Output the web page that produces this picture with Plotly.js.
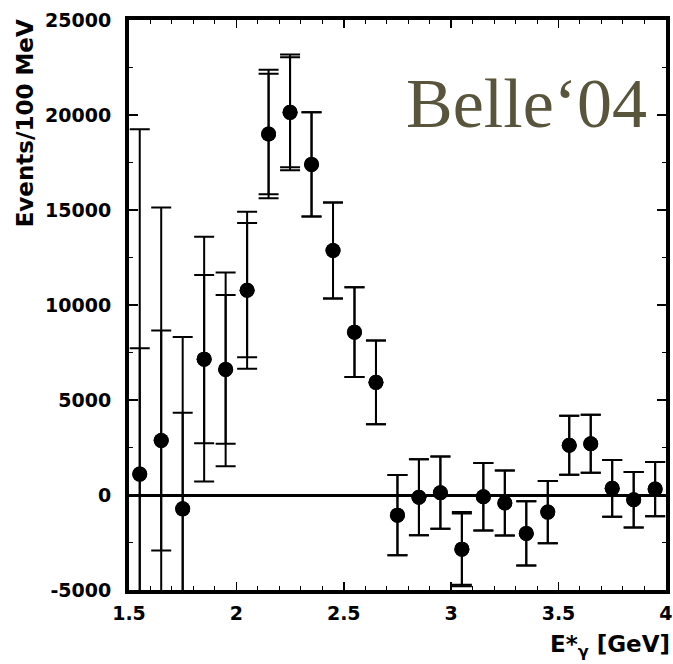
<!DOCTYPE html>
<html><head><meta charset="utf-8">
<script src="https://cdn.plot.ly/plotly-3.0.1.min.js"></script>
<style>html,body{margin:0;padding:0;background:#fff}#chart{width:673px;height:664px}</style>
</head><body><div id="chart"></div><script>
// photon energy bin centres [GeV]
const energy = [1.55, 1.65, 1.75, 1.85, 1.95, 2.05, 2.15, 2.25, 2.35, 2.45, 2.55, 2.65, 2.75,
                2.85, 2.95, 3.05, 3.15, 3.25, 3.35, 3.45, 3.55, 3.65, 3.75, 3.85, 3.95];
// events per 100 MeV
const events = [1100, 2870, -730, 7150, 6610, 10780, 19000, 20140, 17400, 12870, 8570, 5930, -1060,
                -120, 120, -2850, -90, -420, -2020, -900, 2620, 2700, 350, -250, 310];
// total (outer) errors
const totalErr = [18150, 12260, 9040, 6440, 5100, 4130, 3385, 3050, 2740, 2530, 2365, 2200, 2115,
                  2000, 1900, 1950, 1775, 1705, 1685, 1635, 1555, 1530, 1495, 1465, 1425];
// statistical (inner) errors
const statErr = [6620, 5790, 5060, 4425, 3910, 3530, 3175, 2895, 2740, 2530, 2365, 2200, 2115,
                 2000, 1900, 1870, 1775, 1705, 1685, 1635, 1555, 1530, 1495, 1465, 1425];
// tick labels
const xTickVals = [1.5, 2, 2.5, 3, 3.5, 4];
const xTickText = ["1.5", "2", "2.5", "3", "3.5", "4"];
const yTickVals = [-5000, 0, 5000, 10000, 15000, 20000, 25000];
const yTickText = ["-5000", "0", "5000", "10000", "15000", "20000", "25000"];

const labelText = "Belle‘04";
const xTitle = "E*<sub>γ</sub> [GeV]";
const yTitle = "Events/100 MeV";

const boldFont = {family: "DejaVu Sans", size: 19, color: "#000", weight: "bold"};

function errTrace(err) {
  return {
    x: energy, y: events, type: "scatter", mode: "markers",
    marker: {color: "#000", size: 15},
    error_y: {type: "data", array: err, visible: true, color: "#000", thickness: 2, width: 10},
    hoverinfo: "skip", showlegend: false
  };
}
const traces = [errTrace(totalErr), errTrace(statErr)];

const layout = {
  width: 673, height: 664,
  margin: {l: 129, r: 7, t: 20, b: 74},
  paper_bgcolor: "#fff", plot_bgcolor: "#fff",
  showlegend: false,
  xaxis: {
    range: [1.5, 4.0005], tickmode: "array", tickvals: xTickVals, ticktext: xTickText,
    ticks: "inside", ticklen: 8, tickwidth: 1.5, tickcolor: "#000", ticklabelstandoff: 3,
    ticklabeloverflow: "allow",
    minor: {dtick: 0.1, tick0: 1.5, ticks: "inside", ticklen: 4, tickwidth: 1, tickcolor: "#000", showgrid: false},
    showline: true, linewidth: 4, linecolor: "#000", mirror: "allticks",
    showgrid: false, zeroline: false,
    tickfont: boldFont
  },
  yaxis: {
    range: [-5000, 25000], tickmode: "array", tickvals: yTickVals, ticktext: yTickText,
    ticks: "inside", ticklen: 9, tickwidth: 1.5, tickcolor: "#000", ticklabelstandoff: 10,
    ticklabeloverflow: "allow",
    minor: {dtick: 2500, tick0: 0, ticks: "inside", ticklen: 4, tickwidth: 1, tickcolor: "#000", showgrid: false},
    showline: true, linewidth: 4, linecolor: "#000", mirror: "allticks",
    showgrid: false, zeroline: true, zerolinecolor: "#000", zerolinewidth: 3,
    tickfont: boldFont
  },
  annotations: [
    {text: labelText, xref: "paper", yref: "paper", x: 0.74, y: 0.853, xanchor: "center", yanchor: "middle",
     showarrow: false, font: {family: "Liberation Serif", size: 70, color: "#58553c"}},
    {text: yTitle, xref: "paper", yref: "paper", x: -0.193, y: 1, xanchor: "center", yanchor: "top",
     yshift: 3, textangle: -90, showarrow: false,
     font: {family: "DejaVu Sans", size: 23, color: "#000", weight: "bold"}},
    {text: xTitle, xref: "paper", yref: "paper", x: 1, y: 0, xanchor: "right", yanchor: "top",
     xshift: 6, yshift: -39, showarrow: false,
     font: {family: "DejaVu Sans", size: 23, color: "#000", weight: "bold"}}
  ]
};

Plotly.newPlot("chart", traces, layout, {staticPlot: true, displayModeBar: false});
</script></body></html>
